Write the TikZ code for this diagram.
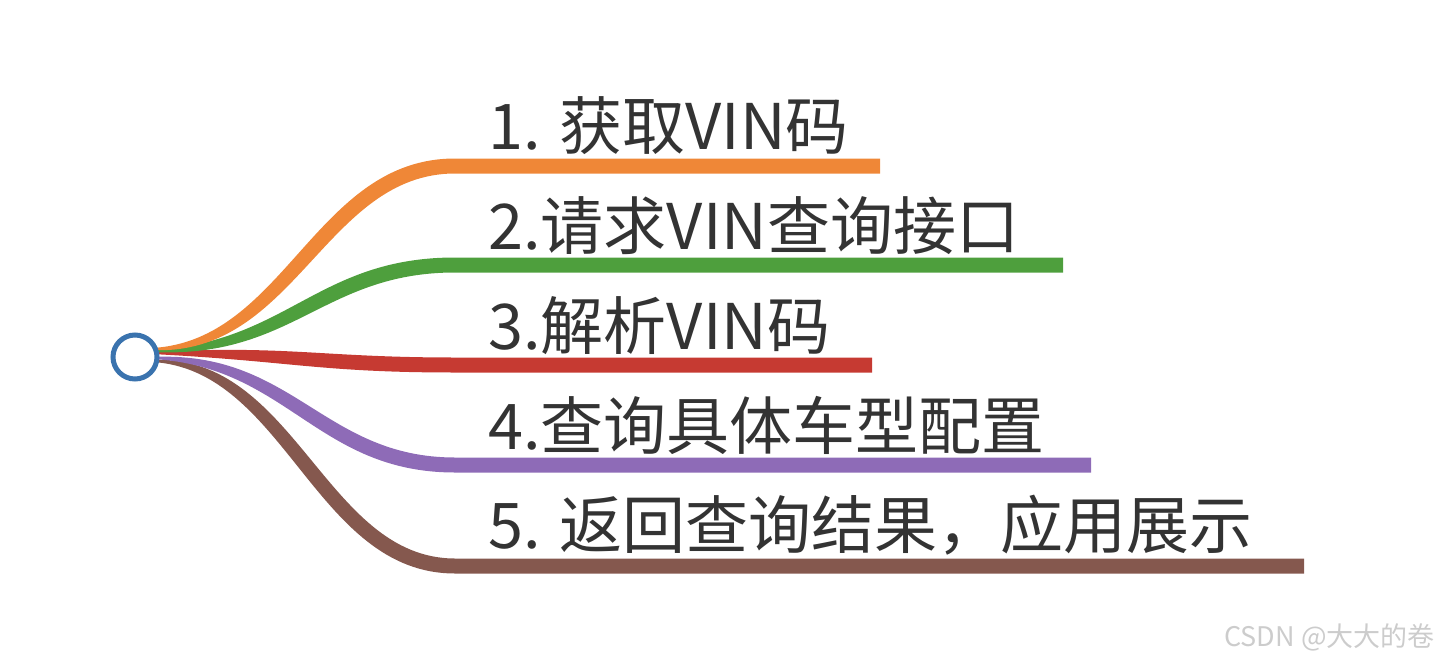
\documentclass[tikz,border=0pt]{standalone}
\usepackage{fontspec}
\setmainfont{Noto Sans CJK SC}
\usetikzlibrary{positioning}
\definecolor{corange}{HTML}{EF8737}
\definecolor{cgreen}{HTML}{4E9F3D}
\definecolor{cred}{HTML}{C63A32}
\definecolor{cpurple}{HTML}{8E6BB7}
\definecolor{cbrown}{HTML}{85584E}
\definecolor{cblue}{HTML}{3A73AE}
\definecolor{ctext}{HTML}{333333}
\tikzset{
  every picture/.style={x=0.5pt, y=-0.5pt},
  root/.style={circle, draw=cblue, fill=white, line width=2.5pt, minimum size=22pt, inner sep=0pt},
  topic/.style={anchor=base west, inner sep=0pt, text=ctext, font=\fontsize{31.5}{36}\selectfont},
  wmark/.style={anchor=base east, inner sep=0pt, text=gray!40, font=\fontsize{13.5}{16}\selectfont},
}

\begin{document}
\begin{tikzpicture}
  \useasboundingbox (0,0) rectangle (1440,664);
  % ---- branches, thin at the root, full width under the text
  \foreach \i/\ys/\yy/\xe/\dx/\col in {5/361/566/1304/-5/cbrown, 4/358/465/1091/-3/cpurple, 3/353/365/872/0/cred, 2/351/265/1063/3/cgreen, 1/349/166/880/5/corange} {
    \fill[\col] (152,\ys-1) .. controls (290-\dx,\ys-8) and (320-\dx,\yy-7.5) .. (455,\yy-7.5)
      -- (\xe,\yy-7.5) -- (\xe,\yy+7.5) -- (455,\yy+7.5)
      .. controls (320+\dx,\yy+7.5) and (290+\dx,\ys+8) .. (152,\ys+1) -- cycle;
  }
  % ---- root
  \node[root] (r) at (135,357) {};
  % ---- topics
  \node[topic] (t1) at (488,149) {1. 获取VIN码};
  \node[topic] (t2) at (488,249) {2.请求VIN查询接口};
  \node[topic] (t3) at (488,349) {3.解析VIN码};
  \node[topic] (t4) at (488,449) {4.查询具体车型配置};
  \node[topic] (t5) at (488,548) {5. 返回查询结果，应用展示};
  % watermark
  \node[wmark] (wm) at (1435,646) {CSDN @大大的卷};
\end{tikzpicture}
\end{document}
